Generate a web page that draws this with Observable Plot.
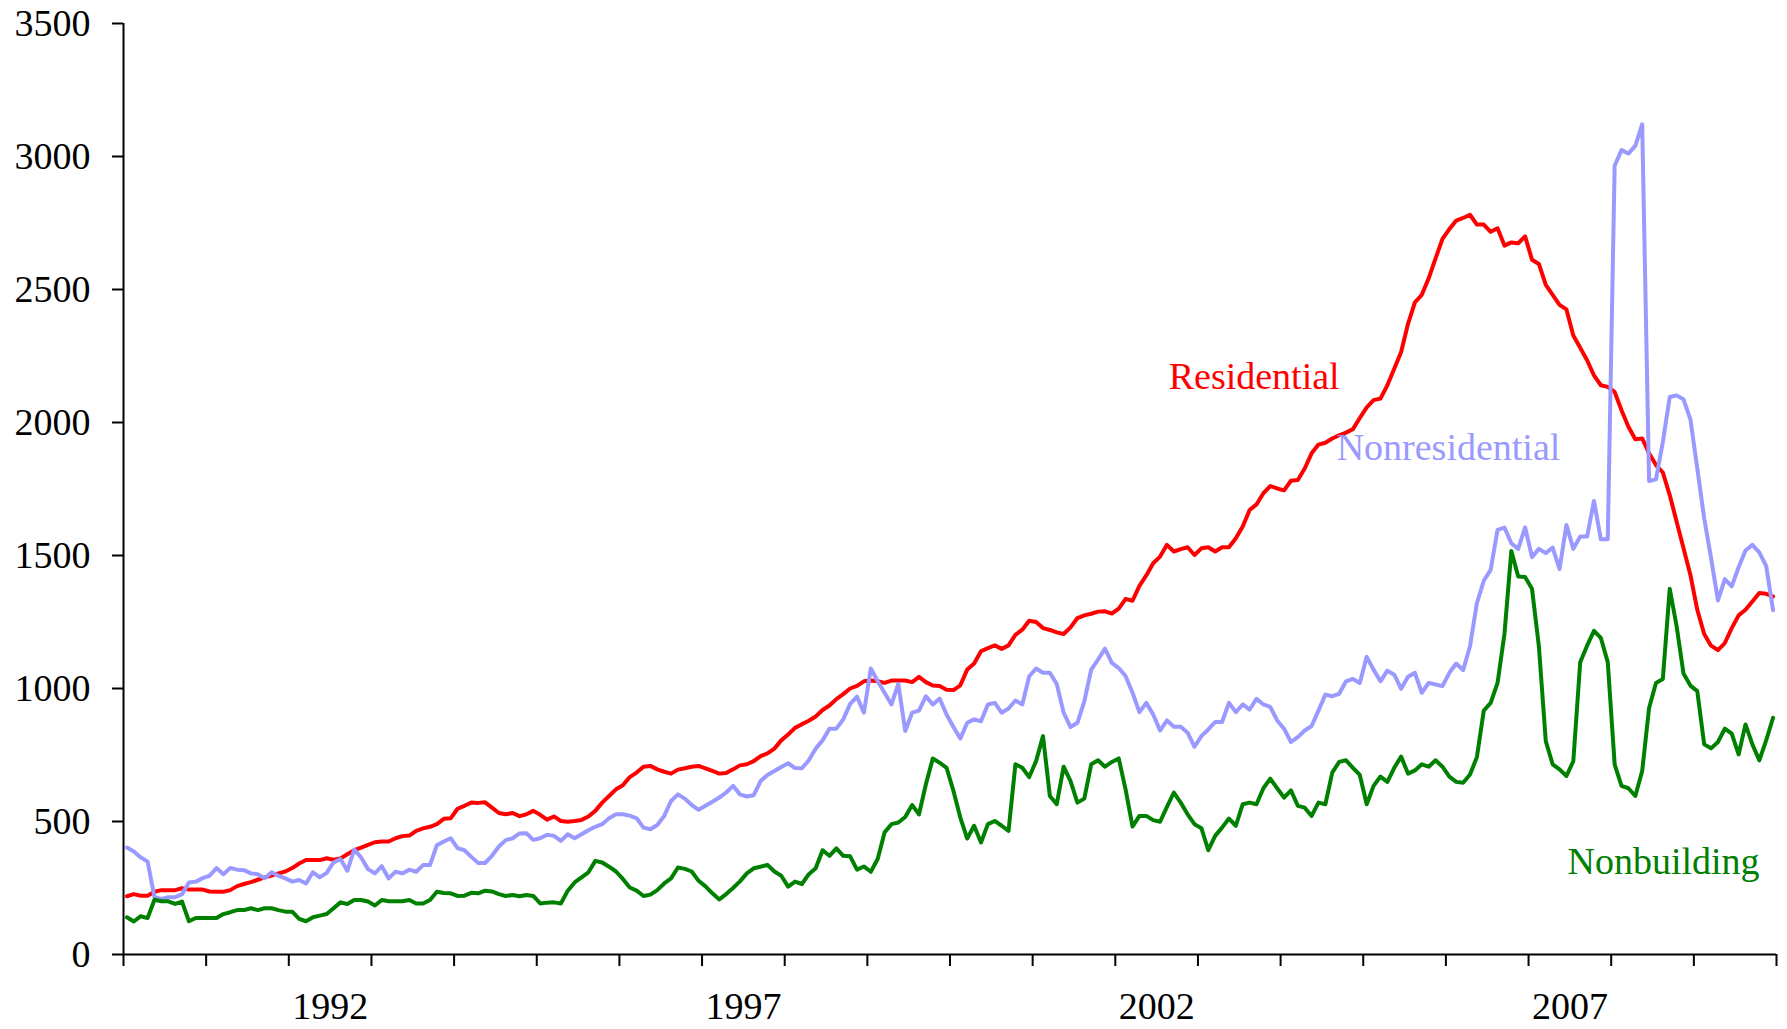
<!DOCTYPE html>
<html>
<head>
<meta charset="utf-8">
<script src="https://cdn.jsdelivr.net/npm/d3@7"></script>
<script src="https://cdn.jsdelivr.net/npm/@observablehq/plot@0.6"></script>
<style>
  html, body { margin: 0; padding: 0; background: #fff; }
  #chart svg { display: block; }
</style>
</head>
<body>
<div id="chart"></div>
<script>
// Monthly values, Jan 1990 .. Dec 2009 (12 per row = one year)
const startYear = 1990;

const residential = [
  219,227,221,221,236,242,242,242,249,244,244,244,
  237,236,236,242,257,265,272,281,290,297,305,312,
  325,342,355,355,355,362,356,361,377,392,402,412,
  422,425,425,437,445,447,465,474,480,490,510,512,
  548,559,571,570,572,552,532,527,532,520,527,540,
  525,507,519,502,499,502,506,519,540,571,596,621,
  636,667,684,706,709,696,687,680,695,700,706,709,
  700,690,680,682,696,711,715,727,746,756,774,805,
  827,852,866,879,895,919,936,960,979,1000,1010,1027,
  1030,1027,1021,1030,1030,1030,1024,1044,1024,1011,1009,995,
  994,1012,1071,1094,1140,1152,1162,1149,1162,1202,1221,1255,
  1250,1227,1220,1211,1205,1230,1265,1275,1281,1289,1290,1282,
  1300,1337,1330,1386,1425,1471,1496,1540,1515,1524,1531,1502,
  1527,1531,1515,1531,1531,1565,1609,1671,1692,1734,1761,1752,
  1745,1781,1784,1827,1884,1917,1924,1940,1952,1962,1975,2017,
  2057,2084,2090,2140,2202,2265,2371,2452,2480,2542,2617,2690,
  2727,2759,2769,2781,2744,2744,2717,2730,2665,2677,2674,2700,
  2612,2596,2517,2480,2442,2425,2327,2281,2234,2177,2140,2134,
  2115,2046,1984,1937,1940,1884,1840,1812,1727,1627,1527,1427,
  1296,1205,1161,1144,1171,1227,1275,1296,1327,1359,1356,1346
];

const nonresidential = [
  402,387,365,349,215,209,215,215,227,271,274,287,
  296,325,302,325,319,317,305,302,287,309,296,286,
  274,280,267,309,290,307,346,359,315,394,365,321,
  305,332,286,311,305,319,311,336,336,411,425,437,
  400,392,367,344,344,371,406,430,437,455,456,431,
  437,450,446,427,452,437,452,467,480,490,512,527,
  527,522,512,477,471,487,521,577,602,586,562,544,
  559,574,590,609,634,602,594,599,652,675,690,705,
  719,701,700,730,774,805,849,849,884,942,969,909,
  1075,1027,984,940,1017,840,909,917,971,940,962,902,
  855,812,871,884,877,940,946,909,925,955,940,1046,
  1075,1059,1059,1017,909,855,871,952,1071,1109,1150,1096,
  1077,1046,984,911,946,902,842,880,856,856,834,781,
  821,846,874,874,946,911,940,921,961,940,931,880,
  849,799,817,842,859,917,977,971,980,1027,1036,1021,
  1119,1071,1027,1067,1052,999,1044,1059,984,1021,1015,1009,
  1059,1094,1069,1159,1321,1405,1446,1596,1605,1546,1525,1606,
  1494,1525,1509,1530,1449,1615,1525,1571,1571,1705,1561,1561,
  2965,3024,3011,3040,3121,1780,1786,1927,2096,2102,2087,2012,
  1827,1640,1490,1331,1411,1384,1456,1519,1540,1512,1461,1294
];

const nonbuilding = [
  140,124,144,137,206,200,200,190,199,125,137,137,
  137,137,152,159,167,167,174,167,174,174,167,161,
  161,134,125,140,146,152,174,196,190,205,205,199,
  184,205,200,200,200,205,192,192,205,236,231,230,
  220,221,232,230,240,237,227,220,224,219,224,220,
  192,195,196,192,240,271,290,309,352,346,330,312,
  284,252,240,220,225,242,267,286,327,322,312,277,
  256,230,207,227,250,275,305,324,330,337,312,296,
  255,274,265,302,324,392,371,399,371,369,319,331,
  311,359,459,490,496,517,562,527,640,737,721,702,
  615,515,436,484,421,490,502,484,465,715,702,667,
  727,821,596,565,706,652,571,586,715,730,706,724,
  737,620,481,521,521,505,499,555,609,571,527,490,
  475,392,446,477,511,484,565,571,565,625,661,625,
  590,617,559,552,521,571,565,684,724,730,702,675,
  565,634,669,649,702,744,680,692,715,706,730,706,
  669,649,646,677,742,917,946,1021,1205,1517,1421,1419,
  1375,1159,802,715,696,671,727,1099,1161,1217,1190,1099,
  715,634,625,596,690,927,1021,1036,1375,1234,1056,1011,
  990,790,775,799,849,830,752,865,790,730,805,890
];

const seriesNames = ["Residential", "Nonresidential", "Nonbuilding"];
const seriesColors = ["#ff0000", "#9999ff", "#008000"];
const yTicks = [0, 500, 1000, 1500, 2000, 2500, 3000, 3500];
const yearTicks = d3.range(1990, 2011);
const yearLabels = ["1992", "1997", "2002", "2007"];

// Where each series name is written (data space: year, value)
const labelYears = [2002.646, 2004.678, 2007.471];
const labelValues = [2173, 1906, 350];

const seriesValues = [residential, nonresidential, nonbuilding];
const rows = seriesNames.flatMap((name, k) =>
  seriesValues[k].map((v, i) => ({series: name, date: startYear + (i + 0.5) / 12, value: v}))
);
const labelRows = seriesNames.map((name, k) => ({series: name, date: labelYears[k], value: labelValues[k]}));

const FONT = "'Liberation Serif', 'Times New Roman', Times, serif";

const chart = Plot.plot({
  width: 1787,
  height: 1029,
  marginLeft: 123,
  marginRight: 11,
  marginTop: 23,
  marginBottom: 75,
  style: {fontFamily: FONT, fontSize: "38px", background: "#fff", color: "#000"},
  x: {domain: [1990, 2010]},
  y: {domain: [0, 3500]},
  color: {domain: seriesNames, range: seriesColors},
  marks: [
    Plot.axisY({ticks: yTicks, tickSize: 11, tickPadding: 22, strokeWidth: 2, label: null, fontSize: 38, tickFormat: d => String(d)}),
    Plot.axisX({ticks: yearTicks, tickSize: 12, strokeWidth: 2, label: null, tickFormat: () => ""}),
    Plot.axisX({ticks: yearLabels.map(s => +s + 0.5), tickSize: 0, tickPadding: 38, label: null, fontSize: 38, tickFormat: d => String(Math.floor(d))}),
    Plot.line(rows, {x: "date", y: "value", z: "series", stroke: "series", strokeWidth: 4, strokeLinejoin: "round", strokeLinecap: "round"}),
    Plot.ruleX([1990], {stroke: "#000", strokeWidth: 2}),
    Plot.ruleY([0], {stroke: "#000", strokeWidth: 2}),
    Plot.text(labelRows, {x: "date", y: "value", text: "series", fill: "series", textAnchor: "start", lineAnchor: "middle", fontSize: 38, fontFamily: FONT})
  ]
});
document.getElementById("chart").appendChild(chart);
</script>
</body>
</html>
